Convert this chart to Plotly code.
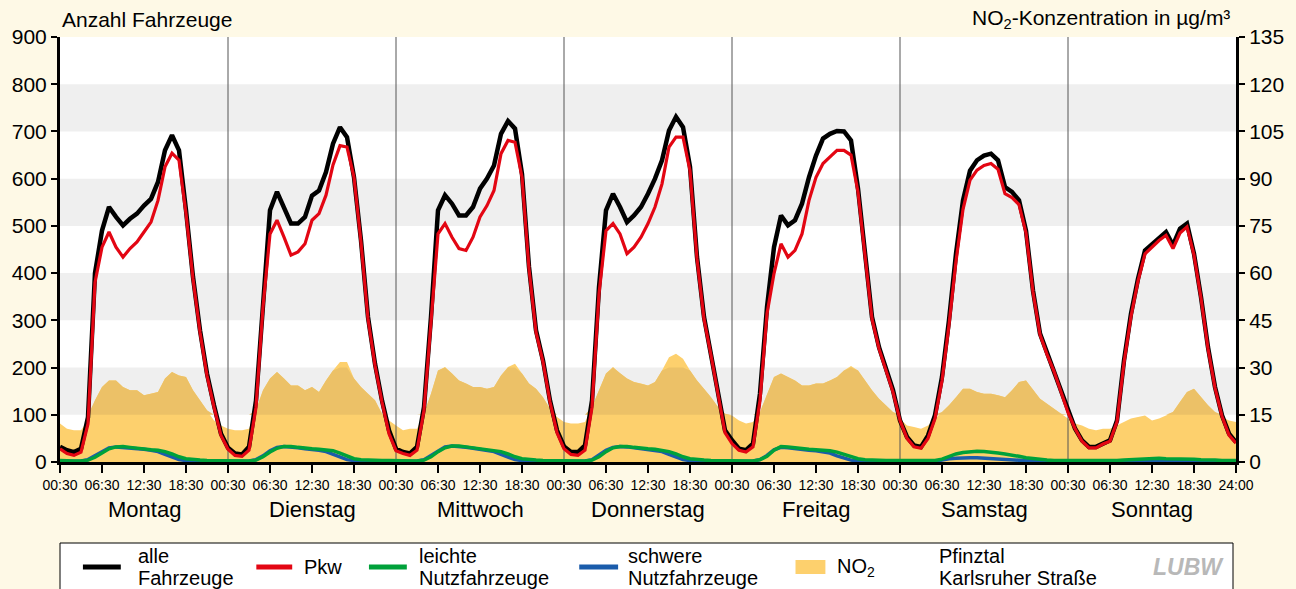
import plotly.graph_objects as go
import numpy as np

# ---------------- data (hourly) ----------------
days = ["Montag", "Dienstag", "Mittwoch", "Donnerstag", "Freitag", "Samstag", "Sonntag"]
tick_labels_day = ["00:30", "06:30", "12:30", "18:30"]
tick_label_end = "24:00"

alle_mo = [32,25,21,28,95,400,490,540,519,501,515,526,543,557,593,660,692,660,533,392,279,187,120,60]
alle_di = [30,18,16,32,130,342,533,572,540,505,505,519,564,575,614,674,709,688,603,469,307,208,130,67]
alle_mi = [28,21,18,32,116,307,533,565,547,522,522,540,579,600,628,695,722,706,610,413,279,215,130,67]
alle_do = [33,21,21,35,130,370,533,568,540,508,522,540,568,600,639,702,731,709,625,434,307,229,145,67]
alle_fr = [46,28,25,39,145,328,455,522,501,512,547,603,649,685,695,701,700,681,579,434,307,243,198,152]
alle_sa = [88,53,35,32,56,99,180,300,441,554,617,639,649,653,639,582,572,554,490,363,272,231,194,152]
alle_so = [109,71,46,32,32,40,46,88,215,314,388,448,462,476,487,459,494,505,441,349,243,159,99,60]
alle_end = 42

pkw_mo = [28,18,14,21,81,380,455,487,455,434,452,466,487,508,554,625,654,639,526,388,275,183,116,56]
pkw_di = [27,14,12,25,116,328,483,512,476,438,445,462,512,526,565,629,670,667,603,465,303,205,127,60]
pkw_mi = [24,18,14,25,109,293,483,505,476,452,448,476,519,543,575,653,681,677,603,409,275,212,127,62]
pkw_do = [28,16,14,25,116,356,490,505,483,441,455,476,505,540,589,667,688,688,617,430,303,226,142,62]
pkw_fr = [39,25,21,32,130,314,399,462,434,448,483,554,603,632,646,660,660,650,572,430,303,240,195,148]
pkw_sa = [88,50,32,29,50,92,172,290,425,535,597,618,628,632,620,568,560,545,485,360,270,228,192,150]
pkw_so = [105,71,44,30,30,38,44,85,210,308,383,441,455,469,480,452,485,498,438,347,240,157,97,57]
pkw_end = 40

lnf_mo = [3,2,2,2,4,10,20,28,32,33,31,29,27,26,25,22,17,11,7,5,4,3,3,3]
lnf_di = [3,2,2,2,4,11,21,29,33,33,31,29,28,27,26,24,19,12,7,5,4,3,3,3]
lnf_mi = [3,2,2,2,4,11,22,30,34,34,32,30,28,27,25,22,17,11,7,5,4,3,3,3]
lnf_do = [3,2,2,2,4,11,22,30,33,33,31,29,28,27,25,22,17,11,7,5,4,3,3,3]
lnf_fr = [3,2,2,2,5,12,25,33,32,30,28,27,26,25,24,21,16,11,7,5,4,3,3,3]
lnf_sa = [3,2,2,2,2,3,6,12,17,20,22,23,22,21,19,17,15,12,9,7,5,4,3,3]
lnf_so = [3,3,2,2,2,2,2,3,4,5,6,7,8,8,7,7,7,6,6,5,5,4,3,3]
lnf_end = 3

snf_mo = [1,1,1,2,5,13,23,30,32,31,30,28,27,25,22,16,10,5,3,2,1,1,1,1]
snf_di = [1,1,1,2,5,13,24,31,33,32,30,28,27,25,22,16,10,5,3,2,1,1,1,1]
snf_mi = [1,1,1,2,5,14,25,32,34,33,31,29,27,25,22,16,10,5,3,2,1,1,1,1]
snf_do = [1,1,1,2,5,14,25,31,33,32,30,28,27,25,22,16,10,5,3,2,1,1,1,1]
snf_fr = [1,1,1,2,5,14,26,31,30,28,26,25,24,22,19,13,8,4,2,1,1,1,1,1]
snf_sa = [1,1,1,1,1,2,4,7,8,9,9,9,8,7,6,5,4,3,2,1,1,1,1,1]
snf_so = [1,1,1,1,1,1,1,1,1,2,2,2,2,2,2,2,2,2,1,1,1,1,1,1]
snf_end = 1

no2_mo = [12.2,10.6,10.1,10.1,13.2,19.6,23.8,25.9,25.9,23.8,22.8,22.8,21.2,21.7,22.2,26.5,28.6,27.5,27.0,22.8,19.6,16.4,13.2,11.6]
no2_di = [10.6,10.1,10.1,10.6,16.4,22.8,26.5,28.6,26.5,24.3,24.3,22.8,23.8,22.2,25.9,29.1,31.8,31.8,26.5,23.8,21.7,19.6,15.3,13.2]
no2_mi = [11.6,10.1,10.6,10.6,15.3,21.7,29.1,30.2,28.1,25.9,24.9,23.8,23.8,23.3,23.8,27.5,30.2,31.2,28.1,24.9,23.3,20.6,16.9,14.3]
no2_do = [12.7,12.2,12.2,12.7,17.5,22.8,28.1,30.2,28.1,26.5,25.4,24.9,24.3,25.4,29.1,33.3,34.4,32.8,29.1,25.9,23.3,20.6,17.5,15.3]
no2_fr = [14.8,13.2,12.2,12.7,15.9,21.7,27.0,28.1,27.0,25.9,24.3,24.3,24.9,24.9,25.9,27.0,29.1,30.5,29.1,25.9,22.8,20.1,18.0,15.9]
no2_sa = [13.8,11.6,11.1,10.6,11.6,13.8,15.9,18.0,20.6,23.3,23.3,22.2,21.7,21.7,21.2,20.6,22.8,25.4,25.9,22.8,20.1,18.5,16.9,15.3]
no2_so = [13.8,12.2,11.6,10.6,10.1,10.6,10.6,11.6,12.7,13.8,14.3,14.8,13.2,13.8,14.8,15.9,19.1,22.2,23.3,20.6,18.0,15.9,14.3,13.2]
no2_end = 12.7

legend_labels = [["alle", "Fahrzeuge"], ["Pkw"], ["leichte", "Nutzfahrzeuge"],
                 ["schwere", "Nutzfahrzeuge"], ["NO<sub>2</sub>"], ["Pfinztal", "Karlsruher Straße"]]

# ---------------- assemble ----------------
def week(parts, end):
    out = []
    for p in parts:
        out += p
    return np.array(out + [end], dtype=float)

alle = week([alle_mo, alle_di, alle_mi, alle_do, alle_fr, alle_sa, alle_so], alle_end)
pkw = week([pkw_mo, pkw_di, pkw_mi, pkw_do, pkw_fr, pkw_sa, pkw_so], pkw_end)
lnf = week([lnf_mo, lnf_di, lnf_mi, lnf_do, lnf_fr, lnf_sa, lnf_so], lnf_end)
snf = week([snf_mo, snf_di, snf_mi, snf_do, snf_fr, snf_sa, snf_so], snf_end)
no2 = week([no2_mo, no2_di, no2_mi, no2_do, no2_fr, no2_sa, no2_so], no2_end)
hours = np.arange(len(alle))
n_hours = 24 * len(days)

# ---------------- styling ----------------
BG = "#FEF9E6"
BAND = "#EFEFEF"
NO2_LIGHT = "#FDD06D"
NO2_DARK = "#ECC167"
C_ALLE = "#000000"
C_PKW = "#E30613"
C_LNF = "#00A13A"
C_SNF = "#1A5CAB"
FONT = "Liberation Sans, Arial, sans-serif"

VEH_MAX = 900
NO2_MAX = 135
scale = NO2_MAX / VEH_MAX
bands = [(100, 200), (300, 400), (500, 600), (700, 800)]

fig = go.Figure()

# NO2 area (base axis y, right side)
fig.add_trace(go.Scatter(x=hours, y=no2, mode="lines", line=dict(width=0),
                         fill="tozeroy", fillcolor=NO2_LIGHT, yaxis="y",
                         name="NO2", showlegend=False, hoverinfo="skip"))
# darker part of NO2 area inside grey bands
for lo, hi in bands:
    lo2, hi2 = lo * scale, hi * scale
    fig.add_trace(go.Scatter(x=hours, y=np.full(len(hours), lo2), mode="lines",
                             line=dict(width=0), yaxis="y", showlegend=False,
                             hoverinfo="skip"))
    fig.add_trace(go.Scatter(x=hours, y=np.clip(no2, lo2, hi2), mode="lines",
                             line=dict(width=0), fill="tonexty", fillcolor=NO2_DARK,
                             yaxis="y", showlegend=False, hoverinfo="skip"))

# day separators
sep_x, sep_y = [], []
for i in range(1, len(days)):
    sep_x += [24 * i, 24 * i, None]
    sep_y += [0, NO2_MAX, None]
fig.add_trace(go.Scatter(x=sep_x, y=sep_y, mode="lines", yaxis="y",
                         line=dict(color="#555555", width=1), showlegend=False,
                         hoverinfo="skip"))

# vehicle lines (overlay axis y2, left side)
for y, c, w, nm in [(snf, C_SNF, 3.5, "schwere Nutzfahrzeuge"),
                    (lnf, C_LNF, 3.5, "leichte Nutzfahrzeuge"),
                    (alle, C_ALLE, 4.5, "alle Fahrzeuge"),
                    (pkw, C_PKW, 3.2, "Pkw")]:
    fig.add_trace(go.Scatter(x=hours, y=y, mode="lines", yaxis="y2", name=nm,
                             line=dict(color=c, width=w), showlegend=False))

# grey bands
shapes = []
for lo, hi in bands:
    shapes.append(dict(type="rect", xref="paper", yref="y2", x0=0, x1=1, y0=lo, y1=hi,
                       fillcolor=BAND, line=dict(width=0), layer="below"))

# ---------------- pixel helpers for decorations ----------------
L, R, T, B = 57, 59, 37, 127
W, H = 1296, 589
PW, PH = W - L - R, H - T - B
def px(xp):
    return (xp - L) / PW
def py(yp):
    return (H - B - yp) / PH

annotations = []
annotations.append(dict(text="Anzahl Fahrzeuge", xref="paper", yref="paper",
                        x=px(57), y=py(19), xanchor="left", yanchor="middle",
                        showarrow=False, font=dict(family=FONT, size=21, color="black")))
annotations.append(dict(text="NO<sub>2</sub>-Konzentration in µg/m³", xref="paper", yref="paper",
                        x=px(1233), y=py(19), xanchor="right", yanchor="middle",
                        showarrow=False, font=dict(family=FONT, size=21, color="black")))
for i, d in enumerate(days):
    annotations.append(dict(text=d, xref="x", yref="paper", x=24 * i + 12, y=py(509),
                            xanchor="center", yanchor="middle", showarrow=False,
                            font=dict(family=FONT, size=22, color="black")))

# legend (drawn manually)
shapes.append(dict(type="rect", xref="paper", yref="paper", x0=px(57), x1=px(1234),
                   y0=py(605), y1=py(543), fillcolor="white",
                   line=dict(color="black", width=1), layer="above"))
leg_y = 567
for (x0, x1, col) in [(80, 118, C_ALLE), (254, 290, C_PKW), (367, 405, C_LNF), (578, 617, C_SNF)]:
    shapes.append(dict(type="line", xref="paper", yref="paper", x0=px(x0), x1=px(x1),
                       y0=py(leg_y), y1=py(leg_y), line=dict(color=col, width=5), layer="above"))
shapes.append(dict(type="rect", xref="paper", yref="paper", x0=px(795), x1=px(825),
                   y0=py(574), y1=py(560), fillcolor=NO2_LIGHT, line=dict(width=0), layer="above"))
for x0, lines in zip([133, 300, 415, 625, 835, 937], legend_labels):
    ys = [leg_y] if len(lines) == 1 else [556, 578]
    for txt, yy in zip(lines, ys):
        annotations.append(dict(text=txt, xref="paper", yref="paper", x=px(x0), y=py(yy),
                                xanchor="left", yanchor="middle", align="left", showarrow=False,
                                font=dict(family=FONT, size=20, color="black")))
annotations.append(dict(text="<b><i>LUBW</i></b>", xref="paper", yref="paper", x=px(1189), y=py(567),
                        xanchor="center", yanchor="middle", showarrow=False,
                        font=dict(family=FONT, size=23, color="#B8B8B8")))

tickvals = list(range(0, n_hours + 1, 6))
ticktext = [tick_labels_day[(v // 6) % 4] for v in tickvals[:-1]] + [tick_label_end]

fig.update_layout(
    width=W, height=H,
    margin=dict(l=L, r=R, t=T, b=B),
    paper_bgcolor=BG, plot_bgcolor="white",
    showlegend=False,
    shapes=shapes, annotations=annotations,
    xaxis=dict(range=[0, n_hours], tickvals=tickvals, ticktext=ticktext,
               ticks="outside", ticklen=8, tickwidth=2, tickcolor="black",
               showline=True, linecolor="black", linewidth=3, showgrid=False, zeroline=False,
               tickfont=dict(family=FONT, size=14, color="black")),
    yaxis=dict(range=[0, NO2_MAX], tickvals=list(range(0, NO2_MAX + 1, 15)), side="right",
               ticks="outside", ticklen=6, tickwidth=2, tickcolor="black",
               showline=True, linecolor="black", linewidth=3, showgrid=False, zeroline=False,
               tickfont=dict(family=FONT, size=21, color="black")),
    yaxis2=dict(range=[0, VEH_MAX], tickvals=list(range(0, VEH_MAX + 1, 100)), side="left",
                overlaying="y", ticks="outside", ticklen=6, tickwidth=2, tickcolor="black",
                showline=True, linecolor="black", linewidth=3, showgrid=False, zeroline=False,
                tickfont=dict(family=FONT, size=21, color="black")),
)

fig.write_html("out.html", config={"displayModeBar": False},
               post_script="document.body.style.margin='0';")
